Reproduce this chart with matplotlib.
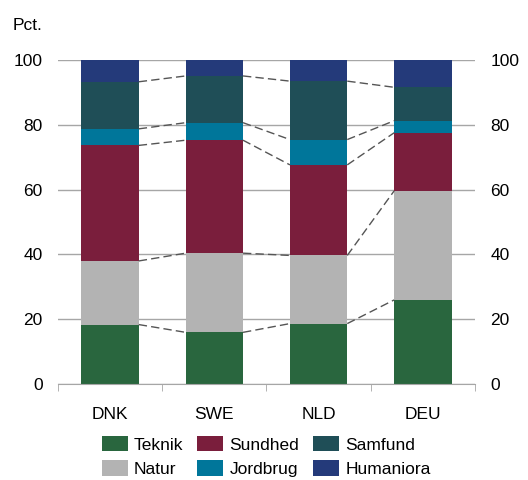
import matplotlib
matplotlib.use("Agg")
import matplotlib.pyplot as plt
import numpy as np

countries = ["DNK", "SWE", "NLD", "DEU"]
fields = ["Teknik", "Natur", "Sundhed", "Jordbrug", "Samfund", "Humaniora"]
teknik = [18.4, 16.0, 18.7, 26.0]
natur = [19.6, 24.4, 21.0, 33.6]
sundhed = [35.6, 34.8, 27.9, 17.9]
jordbrug = [5.1, 5.4, 7.8, 3.7]
samfund = [14.5, 14.4, 18.0, 10.3]
humaniora = [6.8, 5.0, 6.6, 8.5]
yticks = [0, 20, 40, 60, 80, 100]

series = [teknik, natur, sundhed, jordbrug, samfund, humaniora]
colors = ["#29663e", "#b3b3b3", "#7a1e3c", "#00769a", "#1f4e57", "#243a7a"]

FS = 12.5
plt.rcParams['font.family'] = ['Liberation Sans', 'DejaVu Sans']
fig = plt.figure(figsize=(5.28, 4.8), dpi=100)
ax = fig.add_axes([0.1098, 0.1994, 0.7898, 0.6762])

x = np.arange(len(countries))
w = 0.55
bottom = np.zeros(len(countries))
handles = []
for vals, col, name in zip(series, colors, fields):
    v = np.array(vals)
    h = ax.bar(x, v, w, bottom=bottom, color=col, label=name, zorder=2)
    handles.append(h)
    bottom = bottom + v
    if name != "Humaniora":
        for i in range(len(countries) - 1):
            ax.plot([x[i] + w / 2, x[i + 1] - w / 2], [bottom[i], bottom[i + 1]],
                    color="#555555", lw=1.0, ls=(0, (6, 3)), zorder=3)

ax.set_xlim(-0.5, 3.5)
ax.set_ylim(0, 100)
ax.set_yticks(yticks)
ax.yaxis.grid(True, color="#a6a6a6", lw=1.0, zorder=0)
ax.set_axisbelow(True)
for s in ["top", "left", "right"]:
    ax.spines[s].set_visible(False)
ax.spines["bottom"].set_color("#a6a6a6")
ax.tick_params(axis="y", length=0, labelsize=FS, pad=11, labelright=True)
ax.set_xticks(x)
ax.set_xticklabels(countries)
ax.set_xticks(np.arange(-0.5, 3.6, 1.0), minor=True)
ax.tick_params(axis="x", which="major", length=0, labelsize=FS, pad=16)
ax.tick_params(axis="x", which="minor", length=5, color="#a6a6a6", direction="out")

fig.text(0.023, 0.947, "Pct.", fontsize=FS, va="center", ha="left")

fig.legend(handles=handles, labels=fields, ncol=3, loc="upper left",
           bbox_to_anchor=(0.193, 0.092), frameon=False, fontsize=FS,
           handlelength=1.5, handleheight=1.0, handletextpad=0.35,
           columnspacing=0.8, labelspacing=0.45, borderpad=0, borderaxespad=0)

fig.savefig("out.png", dpi=100)
